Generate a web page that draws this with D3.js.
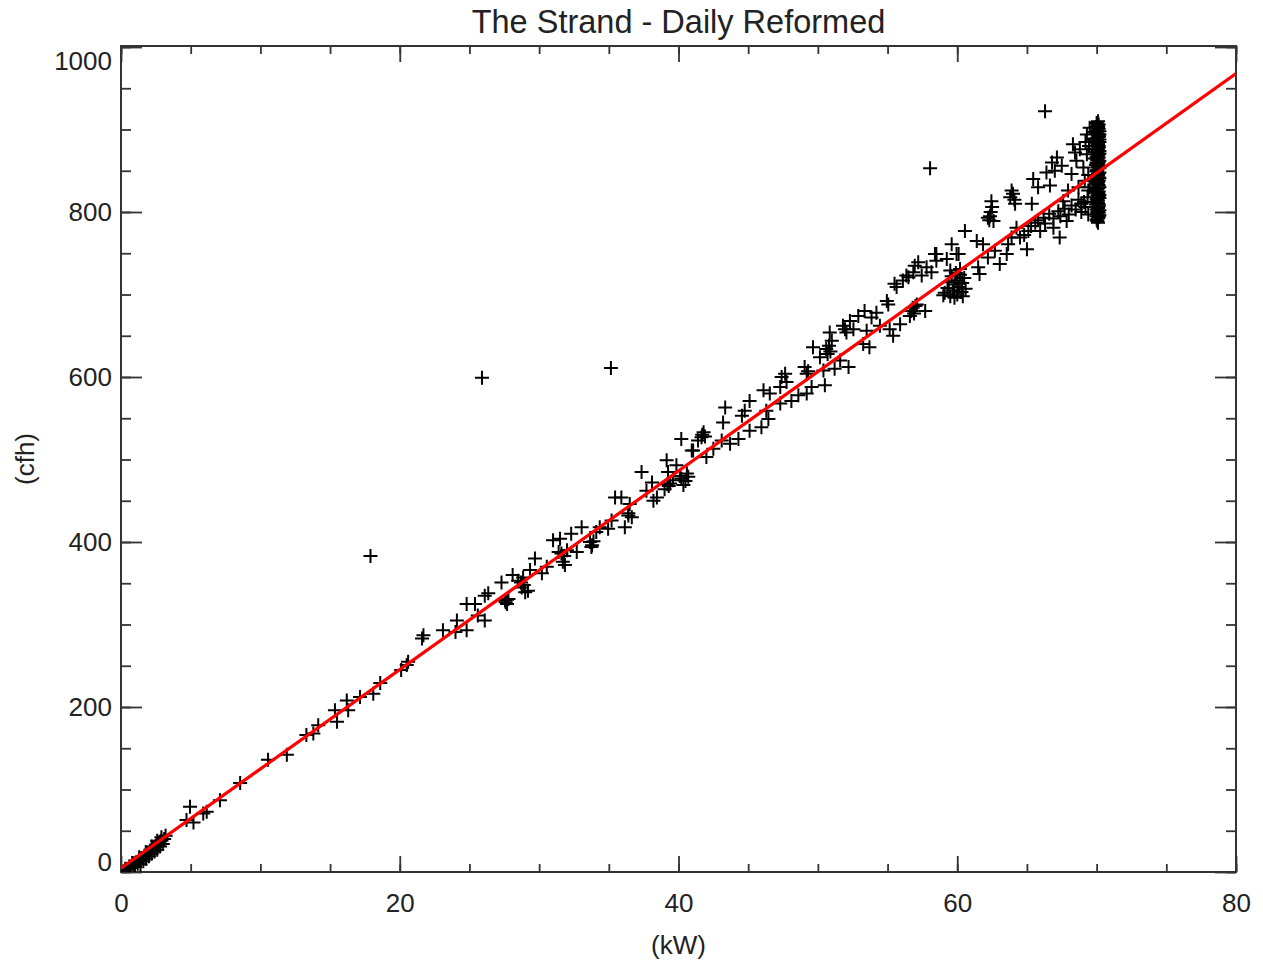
<!DOCTYPE html>
<html>
<head>
<meta charset="utf-8">
<script src="https://cdn.jsdelivr.net/npm/d3@7"></script>
<style>
  body { margin: 0; background: #fff; }
  text { font-family: "Liberation Sans", Arial, sans-serif; fill: #222; }
</style>
</head>
<body>
<script>
// chart values: [kW, cfh]
var pointsLow = [
  [0.2,1],[0.3,4],[0.5,3],[0.6,7],[0.7,5],[0.9,9],[1.0,6],[1.1,12],[1.2,10],[1.3,14],
  [1.4,9],[1.5,17],[1.6,13],[1.7,20],[1.8,16],[1.9,23],[2.0,19],[2.1,26],[2.2,22],[2.3,29],
  [2.4,25],[2.5,32],[2.6,27],[2.7,35],[2.8,31],[2.9,38],[3.0,34],[3.1,40],[2.6,38],[2.2,31],
  [1.8,24],[1.3,18],[0.8,11],[3.2,44],[2.9,42],
  [4.7,63],[4.95,79],[5.2,60],[5.9,71],[6.15,73],[7.1,87],[8.55,108],[10.55,136],[11.9,142],
  [13.3,166],[13.8,168],[14.15,178],[15.35,196],[15.5,182],[16.2,208],[16.3,196],[17.15,212],
  [18.1,216],[18.6,229],[20.1,245],[20.5,251],[20.6,255]
];

var pointsMid = [
  [21.6,283],[21.7,287],[23.1,293],[24.0,291],[24.1,305],[24.8,293],[24.8,325],[25.4,325],
  [25.6,311],[26.1,305],[26.1,335],[26.35,338],[27.3,351],[27.55,329],[27.7,325],[27.8,331],
  [27.6,327],[27.7,330],[28.1,360],[28.5,353],[28.75,345],[28.85,357],[28.7,351],[28.9,348],
  [29.0,339],[29.2,341],[29.35,366],[29.7,380],[30.2,362],[30.55,370],[31.0,402],[31.4,388],
  [31.5,404],[31.7,376],[31.85,372],[31.6,386],[31.8,383],[32.0,390],[32.3,410],[32.7,388],
  [33.05,418],[33.65,400],[33.75,394],[33.8,396],[33.9,401],[34.1,412],[34.35,418],[34.95,416],
  [35.2,426],[35.45,454],[35.9,454],[36.15,418],[36.4,432],[36.4,435],[36.65,430],[36.5,446],
  [37.35,485],[37.7,462],[38.1,472],[38.2,450],[38.45,454],[39.0,464],[39.15,499],[39.25,485],
  [39.2,470],[39.3,468],[39.4,471],[39.6,475],[39.85,493],[40.1,480],[40.2,477],[40.2,525],
  [40.35,469],[40.5,474],[40.6,483],[40.7,479],[40.95,511]
];

var pointsUpper = [
  [41.05,511],[41.4,523],[41.65,527],[41.8,533],[41.7,530],[41.9,528],[42.0,503],[42.5,513],
  [43.1,523],[43.35,563],[43.2,545],[43.7,519],[44.3,525],[44.55,553],[44.75,559],[45.1,571],
  [45.1,535],[45.95,539],[46.1,584],[46.3,559],[46.55,580],[46.45,549],[47.3,588],[47.3,568],
  [47.4,600],[47.65,604],[47.75,594],[48.1,571],[48.6,578],[49.05,612],[49.2,604],[49.3,607],
  [49.2,580],[49.55,588],[49.65,636],[50.15,624],[50.4,608],[50.5,590],[50.6,634],[50.7,628],
  [50.8,638],[50.85,654],[51.0,644],[50.9,631],[51.2,610],[51.6,620],[51.8,662],[52.05,654],
  [51.95,658],[52.2,612],[52.3,668],[52.55,658],[52.9,674],[53.25,640],[53.35,680],[53.5,656],
  [53.7,636],[53.85,672],[54.2,678],[54.45,662],[54.95,692],[55.05,688],[55.15,658],[55.4,650],
  [55.5,713],[55.65,709],[55.9,664],[56.1,717],[56.35,723],[56.5,721],[56.7,680],[56.8,684],
  [56.9,677],[57.0,686],[56.6,674],[56.95,735],[56.85,727],[57.1,688],[57.2,739],[57.45,723],
  [57.7,680],[57.8,733],[58.15,727],[58.4,749],[58.5,741],[58.5,749],[59.0,699],[59.25,743],
  [59.6,761],[59.95,749],
  [59.1,702],[59.3,708],[59.4,715],[59.5,698],[59.6,722],[59.7,705],[59.8,712],[59.9,726],
  [60.0,700],[60.0,717],[60.1,709],[60.2,724],[60.3,703],[60.35,714],[60.5,720],[60.6,707],
  [59.5,729],[60.2,731],[59.8,696],[60.4,698]
];

var pointsTop = [
  [60.1,749],[60.55,777],[61.4,765],[61.5,733],[61.85,761],[61.6,725],[62.2,745],[62.35,795],
  [62.45,813],[62.6,789],[62.2,793],[62.4,800],[62.5,806],[62.3,790],[62.7,753],[63.05,737],
  [63.55,749],[63.65,761],[63.8,818],[64.0,822],[63.9,826],[64.1,815],[64.15,810],[63.9,769],
  [64.25,781],[64.5,769],[65.0,755],[65.1,777],[65.35,810],[65.45,840],[65.6,787],[65.8,830],
  [65.95,777],[66.2,793],[66.4,848],[66.65,832],[66.8,860],[66.9,781],[67.0,850],[67.15,866],
  [67.25,801],[67.35,769],[67.5,856],[67.6,813],[67.85,789],[67.95,826],[68.2,846],[68.3,882],
  [68.45,872],[68.55,862],[68.7,830],[68.8,876],[68.9,810],[69.05,854],[69.15,838],[69.3,894],
  [69.4,797],[69.4,826],
  [64.8,772],[65.3,783],[65.8,790],[66.3,786],[66.6,798],[66.9,792],[67.4,795],[67.7,804],
  [68.0,797],[68.2,808],[68.5,803],[68.7,815],[68.9,800],[69.1,812],[69.2,806],[69.35,818],
  [69.5,830],[69.4,845],[69.3,870],[69.45,880],[69.5,902],[69.2,885]
];

// the dense column at the right end of the cloud
var pointsPeak = [
  [70.1,787],[70.0,791],[70.15,794],[70.05,798],[70.1,801],[70.0,803],[70.15,807],[70.1,811],
  [70.0,812],[70.05,816],[70.15,819],[70.1,823],[70.0,824],[70.05,828],[70.15,832],[70.1,833],
  [70.0,837],[70.05,840],[70.15,842],[70.1,846],[70.0,849],[70.05,851],[70.15,855],[70.1,858],
  [70.0,860],[70.05,864],[70.15,866],[70.1,869],[70.0,873],[70.05,876],[70.15,878],[70.1,882],
  [70.0,884],[70.05,887],[70.15,891],[70.1,893],[70.0,896],[70.05,899],[70.15,901],[70.1,905],
  [70.05,907],[70.1,910],[69.8,876],[69.75,889],[69.8,897],[69.85,865],
  [70.2,796],[69.95,809],[70.2,821],[69.95,835],[70.2,848],[69.95,857],[70.2,871],[69.95,880],
  [70.2,888],[69.95,903],[70.2,898],[69.9,845],[69.9,826],[69.85,812],
  [70.05,789],[70.1,792],[70.0,795],[70.15,799],[70.05,800],[70.2,802],[70.1,805],[70.0,806],
  [70.15,809],[70.05,810],[70.1,814],[70.0,815],[70.2,817],[70.05,820],[70.1,822],[70.15,825],
  [70.0,827],[70.1,829],[70.2,830],[70.05,834],[70.1,836],[70.0,839],[70.15,838],[70.2,841],
  [70.05,844],[70.1,845],[70.15,847],[70.0,850],[70.2,853],[70.05,854],[70.1,856],[70.0,858],
  [70.15,860],[70.2,862],[70.05,863],[70.1,866],[70.0,867],[70.15,870],[70.05,872],[70.2,874],
  [70.1,875],[70.0,877],[70.15,880],[70.05,881],[70.1,884],[70.2,885],[70.0,888],[70.05,890],
  [70.15,892],[70.1,895],[70.2,894],[70.0,898],[70.05,902],[70.1,903],[70.15,906],[70.0,908]
];

var outliers = [[17.9,383],[25.9,599],[35.15,611],[58.05,853],[66.3,922]];

// fitted line: cfh = fitIntercept + fitSlope * kW
var fitIntercept = 4.5;
var fitSlope = 12.04;

var xTicks = [0, 20, 40, 60, 80];
var yTicks = [0, 200, 400, 600, 800, 1000];
var xMinorTicks = d3.range(0, 81, 5);
var yMinorTicks = d3.range(0, 1001, 50);

window.onload = function() {
    drawChart();
};

function drawChart() {

    var width = 1263,
        height = 966,
        plotLeft = 121, plotRight = 1236, plotTop = 46, plotBottom = 872;

    var svg = d3.select("body").append("svg")
        .attr("width", width)
        .attr("height", height);

    svg.append("rect").attr("width", width).attr("height", height).attr("fill", "#fff");

    var x = d3.scaleLinear().domain([0, 80]).range([plotLeft, plotRight]);
    var y = d3.scaleLinear().domain([0, 1000]).range([plotBottom, plotTop + 1]);

    svg.append("defs").append("clipPath").attr("id", "plotclip")
      .append("rect")
        .attr("x", plotLeft).attr("y", plotTop)
        .attr("width", plotRight - plotLeft).attr("height", plotBottom - plotTop);

    //axes with inward ticks on all four sides
    function styleAxis(g) {
        g.select(".domain").remove();
        g.selectAll(".tick line").attr("stroke", "#333").attr("stroke-width", 1.8);
        g.selectAll(".tick text").style("font-size", "26px").attr("fill", "#222")
            .style("font-family", "'Liberation Sans', Arial, sans-serif");
    }

    svg.append("g")
        .attr("transform", "translate(0," + plotBottom + ")")
        .call(d3.axisBottom(x).tickValues(xMinorTicks).tickSize(-8).tickFormat(""))
        .call(styleAxis);
    svg.append("g")
        .attr("transform", "translate(0," + plotBottom + ")")
        .call(d3.axisBottom(x).tickValues(xTicks).tickSize(-16).tickPadding(22).tickFormat(d3.format("d")))
        .call(styleAxis);

    svg.append("g")
        .attr("transform", "translate(0," + plotTop + ")")
        .call(d3.axisTop(x).tickValues(xMinorTicks).tickSize(-8).tickFormat(""))
        .call(styleAxis);
    svg.append("g")
        .attr("transform", "translate(0," + plotTop + ")")
        .call(d3.axisTop(x).tickValues(xTicks).tickSize(-16).tickFormat(""))
        .call(styleAxis);

    svg.append("g")
        .attr("transform", "translate(" + plotLeft + ",0)")
        .call(d3.axisLeft(y).tickValues(yMinorTicks).tickSize(-10).tickFormat(""))
        .call(styleAxis);
    var yAxis = svg.append("g")
        .attr("transform", "translate(" + plotLeft + ",0)")
        .call(d3.axisLeft(y).tickValues(yTicks).tickSize(-21).tickPadding(9).tickFormat(d3.format("d")))
        .call(styleAxis);

    svg.append("g")
        .attr("transform", "translate(" + plotRight + ",0)")
        .call(d3.axisRight(y).tickValues(yMinorTicks).tickSize(-10).tickFormat(""))
        .call(styleAxis);
    svg.append("g")
        .attr("transform", "translate(" + plotRight + ",0)")
        .call(d3.axisRight(y).tickValues(yTicks).tickSize(-21).tickFormat(""))
        .call(styleAxis);

    //end labels are pushed inside the frame
    yAxis.selectAll(".tick text")
        .filter(function(d) { return d === 1000; })
        .attr("dy", "0.85em");
    yAxis.selectAll(".tick text")
        .filter(function(d) { return d === 0; })
        .attr("dy", "-0.05em");

    //frame
    svg.append("rect")
        .attr("x", plotLeft).attr("y", plotTop)
        .attr("width", plotRight - plotLeft).attr("height", plotBottom - plotTop)
        .attr("fill", "none")
        .attr("stroke", "#333")
        .attr("stroke-width", 2);

    //scatter of plus signs
    var allPoints = pointsLow.concat(pointsMid, pointsUpper, pointsTop, pointsPeak, outliers);
    var arm = 7;
    svg.append("g")
        .attr("clip-path", "url(#plotclip)")
      .selectAll(".pt")
        .data(allPoints)
        .enter()
        .append("path")
        .attr("class", "pt")
        .attr("d", function(d) {
            var px = x(d[0]), py = y(d[1]);
            return "M" + (px - arm) + "," + py + "H" + (px + arm) +
                   "M" + px + "," + (py - arm) + "V" + (py + arm);
        })
        .attr("stroke", "#000")
        .attr("stroke-width", 2)
        .attr("fill", "none");

    //fitted line
    var fitLine = d3.line()
        .x(function(d) { return x(d); })
        .y(function(d) { return y(fitIntercept + fitSlope * d); });
    svg.append("path")
        .datum([0, 80])
        .attr("clip-path", "url(#plotclip)")
        .attr("d", fitLine)
        .attr("stroke", "#ff0000")
        .attr("stroke-width", 3.2)
        .attr("fill", "none");

    //titles
    svg.append("text")
        .attr("x", (plotLeft + plotRight) / 2)
        .attr("y", 33)
        .attr("text-anchor", "middle")
        .style("font-size", "32.5px")
        .text("The Strand - Daily Reformed");

    svg.append("text")
        .attr("x", (plotLeft + plotRight) / 2)
        .attr("y", 954)
        .attr("text-anchor", "middle")
        .style("font-size", "26px")
        .text("(kW)");

    svg.append("text")
        .attr("transform", "translate(34," + 459 + ") rotate(-90)")
        .attr("text-anchor", "middle")
        .style("font-size", "26px")
        .text("(cfh)");
}
</script>
</body>
</html>
